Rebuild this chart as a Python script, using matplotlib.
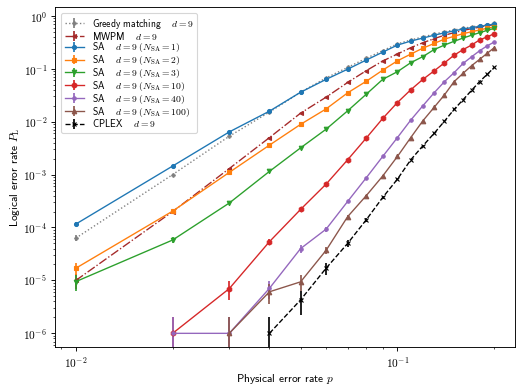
import numpy as np
import matplotlib
matplotlib.use('Agg')
import matplotlib.pyplot as plt
from matplotlib import ticker

plt.rcParams['font.family'] = 'cmss10'
plt.rcParams['mathtext.fontset'] = 'cm'
plt.rcParams['axes.formatter.use_mathtext'] = True

# physical error rates
p = [0.01, 0.02, 0.03, 0.04, 0.05, 0.06, 0.07, 0.08, 0.09, 0.10,
     0.11, 0.12, 0.13, 0.14, 0.15, 0.16, 0.17, 0.18, 0.19, 0.20]

greedy = [6.3e-5, 1.0e-3, 5.3e-3, 0.0152, 0.036, 0.067, 0.106, 0.158, 0.22, 0.295,
          0.35, 0.40, 0.45, 0.50, 0.54, 0.58, 0.62, 0.65, 0.68, 0.72]
mwpm = [1.0e-5, 2.0e-4, 1.3e-3, 5.0e-3, 0.0145, 0.029, 0.055, 0.092, 0.14, 0.19,
        0.25, 0.31, 0.37, 0.43, 0.48, 0.53, 0.57, 0.61, 0.65, 0.68]
sa1 = [1.16e-4, 1.45e-3, 6.4e-3, 0.0158, 0.036, 0.063, 0.098, 0.146, 0.206, 0.28,
       0.333, 0.38, 0.43, 0.477, 0.52, 0.56, 0.60, 0.63, 0.66, 0.70]
sa2 = [1.7e-5, 2.04e-4, 1.1e-3, 3.6e-3, 8.9e-3, 0.0174, 0.035, 0.058, 0.094, 0.141,
       0.189, 0.245, 0.30, 0.363, 0.41, 0.46, 0.50, 0.54, 0.58, 0.62]
sa3 = [9.5e-6, 5.8e-5, 2.9e-4, 1.15e-3, 3.2e-3, 7.2e-3, 0.016, 0.033, 0.063, 0.088,
       0.13, 0.17, 0.23, 0.28, 0.33, 0.38, 0.43, 0.48, 0.53, 0.58]
# the following start at p = 0.02, 0.02, 0.03 and 0.04
sa10 = [1.0e-6, 7.0e-6, 5.4e-5, 2.2e-4, 6.6e-4, 1.9e-3, 4.9e-3, 0.0115, 0.023,
        0.040, 0.063, 0.091, 0.129, 0.18, 0.23, 0.28, 0.35, 0.40, 0.46]
sa40 = [1.0e-6, 1.0e-6, 7.1e-6, 4.0e-5, 9.3e-5, 3.1e-4, 8.7e-4, 2.2e-3, 5.0e-3,
        0.0107, 0.020, 0.035, 0.057, 0.084, 0.126, 0.168, 0.218, 0.27, 0.32]
sa100 = [1.0e-6, 6.1e-6, 9.4e-6, 3.7e-5, 1.6e-4, 4.0e-4, 9.4e-4, 2.2e-3, 5.0e-3,
         0.0104, 0.0186, 0.032, 0.057, 0.082, 0.114, 0.15, 0.195, 0.25]
cplex = [1.0e-6, 4.3e-6, 1.7e-5, 5.0e-5, 1.4e-4, 3.7e-4, 8.2e-4, 1.9e-3, 3.5e-3,
         6.0e-3, 0.0102, 0.017, 0.026, 0.039, 0.057, 0.078, 0.106]

y_ticks = [1e-6, 1e-5, 1e-4, 1e-3, 1e-2, 1e-1, 1e0]
x_ticks = [1e-2, 1e-1]

n_shots = 1e6  # samples per point, error bar = sqrt(P / n)

series = [
    (greedy, 'Greedy matching $\\quad d=9$', 'tab:gray', ':', 'P', 3),
    (mwpm, 'MWPM $\\quad d=9$', '#a52a2a', '-.', '<', 3.5),
    (sa1, 'SA $\\quad d=9\\ (N_{\\rm SA}=1)$', 'tab:blue', '-', 'o', 3.5),
    (sa2, 'SA $\\quad d=9\\ (N_{\\rm SA}=2)$', 'tab:orange', '-', 's', 3.5),
    (sa3, 'SA $\\quad d=9\\ (N_{\\rm SA}=3)$', 'tab:green', '-', 'v', 4),
    (sa10, 'SA $\\quad d=9\\ (N_{\\rm SA}=10)$', 'tab:red', '-', 'h', 4.5),
    (sa40, 'SA $\\quad d=9\\ (N_{\\rm SA}=40)$', 'tab:purple', '-', 'o', 3),
    (sa100, 'SA $\\quad d=9\\ (N_{\\rm SA}=100)$', 'tab:brown', '-', '^', 4),
    (cplex, 'CPLEX $\\quad d=9$', 'black', '--', 'x', 3.5),
]

fig = plt.figure(figsize=(6.4, 4.775), dpi=81.72)
ax = fig.add_subplot(1, 1, 1)

for vals, label, color, ls, marker, ms in series:
    x = p[len(p) - len(vals):]
    y = np.array(vals)
    err = np.sqrt(y / n_shots)
    ax.errorbar(x, y, yerr=err, color=color, ls=ls, marker=marker, ms=ms,
                lw=1.2, elinewidth=1.5, capsize=0, label=label)

ax.set_xscale('log')
ax.set_yscale('log')
ax.set_yticks(y_ticks)
ax.set_xticks(x_ticks)
ax.set_ylim(5.5e-7, 1.48)

dec = ticker.FuncFormatter(lambda v, pos: '$10^{%d}$' % int(round(np.log10(v))))
for axis in (ax.xaxis, ax.yaxis):
    axis.set_major_formatter(dec)
    axis.set_minor_formatter(ticker.NullFormatter())

ax.set_xlabel('Physical error rate $p$', fontsize=10, labelpad=2)
ax.set_ylabel('Logical error rate $P_{\\rm L}$', fontsize=10, labelpad=1)
ax.tick_params(labelsize=10)
ax.legend(loc='upper left', fontsize=8.5, labelspacing=-0.12,
          borderaxespad=0.6)

fig.subplots_adjust(left=0.105, right=0.985, bottom=0.11, top=0.982)
fig.savefig('out.png', dpi=81.72)
